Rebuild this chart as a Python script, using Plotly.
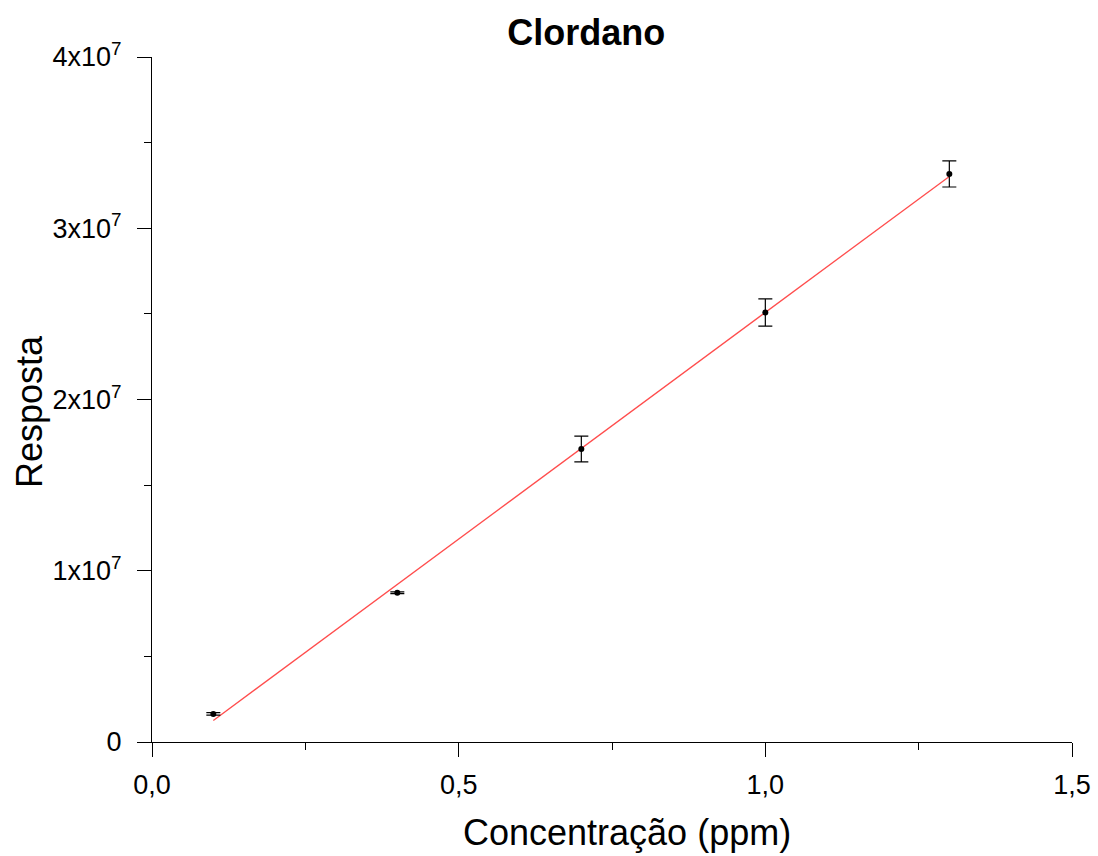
import numpy as np
import plotly.graph_objects as go

conc = [0.1, 0.4, 0.7, 1.0, 1.3]
resposta = [1.64e6, 8.72e6, 1.711e7, 2.508e7, 3.317e7]
erro = [0.07e6, 0.05e6, 0.75e6, 0.8e6, 0.76e6]

ytickvals = [0, 1e7, 2e7, 3e7, 4e7]
yticktext = ["0", "1x10<sup>7</sup>", "2x10<sup>7</sup>", "3x10<sup>7</sup>", "4x10<sup>7</sup>"]
xtickvals = [0, 0.5, 1.0, 1.5]
xticktext = ["0,0", "0,5", "1,0", "1,5"]

slope, intercept = np.polyfit(conc, resposta, 1)
xfit = np.array([min(conc), max(conc)])
yfit = slope * xfit + intercept

fig = go.Figure()
fig.add_trace(go.Scatter(x=xfit, y=yfit, mode="lines",
                         line=dict(color="#ff4d4d", width=1.3), showlegend=False))
fig.add_trace(go.Scatter(x=conc, y=resposta, mode="markers",
                         marker=dict(color="black", size=6),
                         error_y=dict(type="data", array=erro, color="black",
                                      thickness=1.2, width=7),
                         showlegend=False))

font = "Liberation Sans, Arial, sans-serif"
fig.update_layout(
    width=1098, height=856,
    paper_bgcolor="white", plot_bgcolor="white",
    margin=dict(l=152, r=26, t=57, b=114),
    font=dict(family=font, color="black"),
    title=dict(text="<b>Clordano</b>", x=0.472, xref="paper", xanchor="center",
               y=0.962, yref="container", yanchor="middle",
               font=dict(size=36, family=font, color="black")),
    annotations=[
        dict(text="Concentração (ppm)", x=0.5163, y=-0.1314, xref="paper", yref="paper",
             xanchor="center", yanchor="middle", showarrow=False,
             font=dict(size=36, family=font, color="black")),
        dict(text="Resposta", x=-0.1326, y=0.4818, xref="paper", yref="paper",
             xanchor="center", yanchor="middle", showarrow=False, textangle=-90,
             font=dict(size=36, family=font, color="black")),
    ],
)
fig.update_xaxes(range=[0, 1.5], showline=True, linecolor="black", linewidth=1.2,
                 showgrid=False, zeroline=False, automargin=False,
                 tickmode="array", tickvals=xtickvals, ticktext=xticktext,
                 ticks="outside", ticklen=14, tickwidth=1.2, tickcolor="black",
                 tickfont=dict(size=27), ticklabelstandoff=4,
                 minor=dict(ticks="outside", ticklen=7, tickwidth=1, tickcolor="black",
                            tickvals=[0.25, 0.75, 1.25]))
fig.update_yaxes(range=[0, 4e7], showline=True, linecolor="black", linewidth=1.2,
                 showgrid=False, zeroline=False, automargin=False,
                 tickmode="array", tickvals=ytickvals, ticktext=yticktext,
                 ticks="outside", ticklen=14, tickwidth=1.2, tickcolor="black",
                 tickfont=dict(size=27), ticklabelstandoff=10,
                 minor=dict(ticks="outside", ticklen=7, tickwidth=1, tickcolor="black",
                            tickvals=[0.5e7, 1.5e7, 2.5e7, 3.5e7]))

fig.write_html("out.html")
